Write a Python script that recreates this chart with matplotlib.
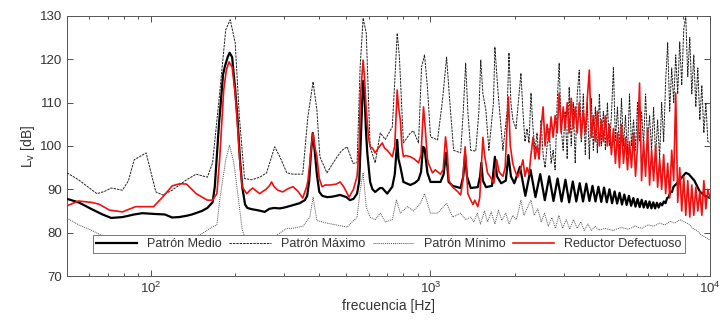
import matplotlib
matplotlib.use("Agg")
import matplotlib.pyplot as plt
from matplotlib.ticker import LogLocator, NullFormatter, FixedLocator

plt.rcParams['font.family'] = ['Liberation Sans', 'DejaVu Sans']

# ---------------- data ----------------
medio_f = [50, 55, 61, 67, 72, 79, 87, 93, 104, 112, 119, 126, 134, 140, 152, 159, 166, 169, 175,
           181, 184, 188, 191, 195, 200, 204, 208, 212, 217, 221, 230, 240, 255, 265, 275, 289, 300,
           320, 340, 355, 362, 368, 373, 379, 385, 392, 400, 410, 426, 445, 475, 500, 515, 530, 546,
           556, 562, 568, 574, 580, 587, 594, 608, 620, 634, 660, 672, 700, 730, 745, 752, 760, 768,
           780, 800, 847, 880, 906, 925, 940, 952, 975, 1000, 1086, 1115, 1135, 1150, 1161, 1200,
           1282, 1310, 1330, 1350, 1393, 1476, 1505, 1520, 1540, 1580, 1660, 1700, 1730, 1790, 1860,
           1900, 1940, 1995, 2090, 2185, 2280, 2375, 2470, 2565, 2660, 2755, 2850, 2945, 3040, 3135,
           3230, 3325, 3420, 3515, 3610, 3705, 3800, 3895, 3990, 4085, 4180, 4275, 4370, 4465, 4560,
           4655, 4750, 4845, 4940, 5035, 5130, 5225, 5320, 5415, 5510, 5605, 5700, 5795, 5890, 5985,
           6080, 6175, 6270, 6365, 6460, 6555, 6650, 6745, 6840, 6935, 7030, 7125, 7220, 7315, 7410,
           7600, 7800, 8000, 8200, 8400, 8800, 9200, 9600, 10000]
medio_db = [87.8, 87.0, 85.5, 84.2, 83.4, 83.6, 84.2, 84.5, 84.3, 84.2, 83.5, 83.6, 83.9, 84.2, 85.0,
            85.7, 87.0, 90.5, 105.0, 116.5, 118.5, 120.5, 121.5, 120.5, 113.0, 106.0, 97.0, 90.5,
            86.5, 85.7, 85.4, 85.2, 84.8, 85.5, 85.7, 85.6, 85.8, 86.3, 86.8, 87.5, 88.5, 92.0, 98.0,
            103.0, 99.0, 93.5, 89.4, 88.5, 88.2, 88.3, 88.7, 88.2, 87.5, 87.8, 89.0, 92.0, 100.0,
            108.0, 115.0, 113.0, 104.0, 98.4, 91.7, 90.0, 89.4, 90.3, 90.3, 89.0, 90.6, 93.5, 97.0,
            101.4, 97.0, 95.2, 91.7, 91.0, 91.5, 92.2, 94.0, 99.8, 99.5, 93.8, 91.7, 91.7, 93.5,
            98.4, 95.0, 91.7, 90.8, 90.3, 93.0, 98.0, 93.0, 90.3, 90.5, 93.0, 96.1, 92.0, 90.5, 90.8,
            97.5, 93.0, 91.4, 92.0, 97.9, 93.0, 91.4, 95.2, 88.5, 94.5, 88.2, 93.5, 87.5, 93.0, 87.3,
            92.5, 87.2, 92.2, 87.0, 91.8, 87.2, 91.4, 87.2, 91.3, 87.3, 90.8, 87.2, 90.6, 87.1, 90.4,
            87.0, 90.0, 86.8, 89.5, 86.7, 89.2, 86.5, 88.8, 86.4, 88.5, 86.2, 88.0, 86.0, 87.8, 85.9,
            87.6, 85.8, 87.3, 85.7, 87.2, 85.6, 87.0, 85.6, 86.9, 85.8, 86.8, 86.3, 87.2, 86.8, 88.0,
            88.2, 89.4, 89.4, 90.6, 91.3, 92.2, 93.0, 93.8, 93.5, 92.0, 89.5, 88.5, 88.0]

maximo_f = [50, 55, 61, 64, 68, 72, 79, 83, 87, 96, 104, 110, 119, 134, 145, 159, 166, 176, 185,
            192, 200, 207, 216, 229, 245, 259, 277, 289, 306, 321, 349, 364, 380, 392, 402, 426,
            463, 482, 503, 528, 546, 560, 574, 589, 608, 634, 661, 689, 730, 745, 760, 774, 800,
            847, 869, 906, 929, 952, 975, 1000, 1060, 1104, 1142, 1171, 1210, 1282, 1310, 1336,
            1360, 1393, 1452, 1490, 1513, 1540, 1578, 1618, 1680, 1700, 1720, 1742, 1816, 1880,
            1909, 1940, 1972, 2023,
            2107, 2142, 2178, 2215, 2252, 2289, 2328, 2367, 2406, 2446, 2487, 2529, 2571, 2614,
            2658, 2702, 2747, 2793, 2840, 2887, 2935, 2984, 3034, 3085, 3136, 3189, 3242, 3296,
            3351, 3407, 3464, 3522, 3581, 3641, 3702, 3763, 3826, 3890, 3955, 4021, 4088, 4156,
            4226, 4296, 4368, 4441, 4515, 4590, 4667, 4745, 4824, 4905, 4986, 5070, 5154, 5240,
            5328, 5417, 5507, 5599, 5693, 5788, 5884, 5983, 6082, 6184, 6287, 6392, 6499, 6607,
            6718, 6830, 6944, 7060, 7178, 7298, 7420, 7543, 7669, 7797, 7927, 8060, 8194, 8331,
            8470, 8612, 8755, 8902, 9050, 9201, 9355, 9511, 9670, 9831, 10000]
maximo_db = [93.8, 92.2, 90.0, 89.0, 89.5, 90.3, 89.8, 92.0, 96.8, 98.4, 89.4, 88.7, 89.8, 92.2,
             93.5, 92.8, 96.1, 112.2, 126.8, 129.1, 123.8, 106.7, 92.5, 92.2, 92.8, 93.8, 99.8,
             97.5, 93.8, 93.5, 93.5, 106.7, 114.8, 108.3, 97.5, 93.8, 97.5, 99.0, 99.8, 96.0, 96.1,
             118.2, 129.5, 126.0, 99.8, 96.1, 103.0, 101.5, 104.4, 115.0, 126.0, 120.5, 100.7,
             103.0, 103.5, 100.7, 118.2, 121.0, 113.6, 102.1, 101.4, 110.6, 120.5, 110.6, 99.0,
             98.4, 108.0, 119.1, 108.0, 99.0, 98.8, 108.0, 119.8, 112.0, 108.3, 99.0, 110.0,
             122.8, 118.0, 113.0, 99.0, 108.0, 121.5, 110.0, 106.0, 104.0,
             116.8, 108.0, 101.0, 104.0, 100.7, 112.2, 104.0, 99.0, 103.0, 97.0, 106.0, 98.0,
             95.0, 100.0, 104.0, 96.0, 99.0, 94.5, 110.0, 119.1, 104.0, 99.0, 108.0, 97.0, 113.6,
             100.0, 110.0, 96.0, 112.0, 117.5, 101.0, 112.0, 98.0, 110.0, 97.0, 111.0, 99.0,
             109.0, 98.4, 112.0, 100.0, 108.0, 99.0, 110.0, 100.0, 107.0, 118.2, 101.0, 109.0,
             99.0, 111.0, 100.0, 107.0, 98.0, 112.0, 100.0, 106.0, 99.0, 110.0, 101.0, 108.0,
             100.0, 112.0, 101.0, 107.0, 99.0, 109.0, 97.5, 106.0, 97.0, 110.0, 101.0, 115.0,
             123.8, 108.0, 118.0, 110.0, 121.0, 112.0, 124.0, 114.0, 127.0, 130.0, 116.0, 125.0,
             112.0, 121.0, 109.0, 118.0, 106.0, 114.0, 103.0, 110.0, 101.0, 100.7]

minimo_f = [50, 55, 61, 66, 75, 90, 120, 150, 165, 172, 176, 185, 191, 198, 207, 212, 220, 260,
            290, 306, 321, 350, 370, 380, 392, 426, 503, 546, 560, 574, 589, 608, 634, 661, 689,
            730, 755, 780, 827, 869, 921, 952, 1000, 1060, 1142, 1200, 1282, 1336, 1393, 1430,
            1470, 1510, 1560, 1600, 1650, 1700, 1750, 1800, 1860, 1910, 1970, 2030, 2107, 2160,
            2230, 2289, 2350, 2420, 2490, 2560, 2640, 2720, 2800, 2880, 2970, 3060, 3150, 3250,
            3350, 3450, 3550, 3660, 3770, 3880, 4000, 4200, 4500, 4800, 5100, 5400, 5700, 6000,
            6300, 6600, 6900, 7200, 7500, 7800, 8100, 8400, 8700, 9000, 9300, 9600, 10000]
minimo_db = [83.4, 81.8, 80.6, 79.5, 78.5, 78.5, 78.5, 79.5, 81.3, 81.8, 87.5, 96.8, 100.2, 95.9,
             86.0, 80.6, 78.0, 78.0, 80.0, 81.0, 81.0, 81.5, 83.6, 88.2, 82.8, 82.2, 81.3, 83.6,
             89.8, 93.8, 85.9, 83.6, 83.0, 84.5, 82.5, 83.0, 87.5, 84.5, 86.0, 85.0, 86.8, 89.0,
             84.5, 84.5, 86.8, 83.6, 84.5, 83.0, 83.6, 82.5, 84.5, 82.0, 85.0, 82.5, 84.8, 82.0,
             85.2, 82.8, 84.5, 82.0, 84.0, 83.0, 87.5, 84.0, 86.0, 87.5, 84.0, 85.5, 82.5, 84.5,
             81.5, 83.5, 81.0, 84.0, 81.0, 83.0, 80.8, 83.0, 81.0, 82.5, 80.5, 82.0, 80.5, 81.5,
             80.6, 81.0, 80.5, 81.2, 80.8, 81.5, 81.0, 81.8, 81.5, 82.2, 81.8, 82.6, 82.2, 83.0,
             82.5, 82.0, 81.0, 80.5, 79.5, 79.0, 78.3]

reductor_f = [50, 55, 61, 65, 71, 79, 88, 102, 110, 119, 127, 134, 145, 159, 166, 172, 176, 182,
              186, 190, 195, 200, 204, 208, 212, 220, 226, 231, 238, 245, 252, 258, 265, 270, 275,
              284, 296, 310, 322, 335, 349, 360, 364, 370, 376, 380, 385, 392, 400, 409, 420, 437,
              460, 475, 490, 511, 530, 546, 556, 560, 568, 574, 580, 589, 600, 608, 620, 634, 650,
              672, 685, 700, 715, 730, 745, 752, 760, 768, 780, 790, 800, 815, 847, 875, 906, 925,
              944, 955, 975, 983, 1016, 1040, 1086, 1110, 1132, 1150, 1161, 1200, 1250, 1282, 1305,
              1330, 1345, 1360, 1393, 1420, 1440, 1476, 1500, 1540, 1560, 1600, 1650, 1686, 1725,
              1760, 1816, 1850, 1900, 1930, 1970, 2000, 2050,
              2107, 2142, 2178, 2215, 2252, 2289, 2328, 2367, 2406, 2446, 2487, 2529, 2571, 2614,
              2658, 2702, 2747, 2793, 2840, 2887, 2935, 2984, 3034, 3085, 3136, 3189, 3242, 3296,
              3351, 3407, 3464, 3522, 3581, 3641, 3702, 3763, 3826, 3890, 3955, 4021, 4088, 4156,
              4226, 4296, 4368, 4441, 4515, 4590, 4667, 4745, 4824, 4905, 4986, 5070, 5154, 5240,
              5328, 5417, 5507, 5599, 5693, 5788, 5884, 5983, 6082, 6184, 6287, 6392, 6499, 6607,
              6718, 6830, 6944, 7060, 7178, 7298, 7420, 7543, 7669, 7797, 7927, 8060, 8194, 8331,
              8470, 8612, 8755, 8902, 9050, 9201, 9355, 9511, 9670, 9831, 10000]
reductor_db = [86.2, 87.3, 87.0, 86.6, 85.2, 84.8, 86.0, 86.0, 88.2, 90.8, 91.3, 91.2, 89.0, 87.5,
               87.5, 89.0, 97.0, 113.0, 117.5, 119.4, 118.2, 112.0, 104.4, 96.0, 90.5, 89.0, 89.8,
               90.3, 89.6, 89.0, 89.6, 90.0, 90.8, 91.7, 90.7, 89.8, 89.4, 90.2, 90.6, 89.6, 88.0,
               90.5, 91.9, 96.0, 101.0, 103.0, 100.0, 97.5, 92.5, 90.6, 91.0, 91.0, 91.2, 91.7,
               90.5, 88.2, 90.0, 93.0, 100.0, 110.6, 116.0, 119.8, 116.0, 108.3, 102.0, 99.8, 99.5,
               98.4, 99.5, 100.7, 99.5, 99.0, 98.3, 97.5, 100.0, 106.0, 112.9, 109.0, 106.0, 100.0,
               97.5, 97.8, 97.5, 97.0, 96.1, 98.0, 109.0, 105.0, 97.0, 96.0, 93.8, 94.5, 93.5, 94.5,
               102.1, 98.0, 92.2, 90.5, 89.5, 88.7, 92.0, 99.8, 95.0, 89.0, 87.5, 86.5, 87.5, 86.0,
               88.0, 102.0, 98.0, 93.8, 92.5, 91.4, 96.8, 94.0, 93.0, 95.0, 111.3, 100.0, 96.0,
               94.5, 92.8,
               95.0, 96.8, 93.0, 95.0, 93.5, 98.0, 102.0, 97.0, 100.0, 97.0, 104.0, 109.0, 100.0,
               105.0, 101.0, 106.7, 102.0, 107.0, 103.0, 112.2, 103.0, 109.0, 104.0, 110.0, 103.0,
               111.0, 104.0, 109.0, 103.0, 110.0, 102.0, 108.0, 103.0, 111.0, 117.5, 102.0, 107.0,
               101.0, 108.0, 100.0, 106.0, 101.0, 107.0, 100.0, 105.0, 98.0, 104.0, 96.0, 103.0,
               95.0, 105.0, 96.0, 102.0, 94.5, 101.0, 95.0, 103.0, 93.0, 100.0, 114.5, 92.0, 101.0,
               93.0, 104.0, 91.0, 99.0, 92.0, 100.0, 90.5, 97.0, 90.0, 98.0, 89.0, 96.0, 88.0, 99.0,
               92.0, 112.2, 87.0, 95.0, 85.0, 93.0, 84.0, 92.0, 83.6, 91.0, 84.0, 90.5, 85.0, 89.5,
               84.0, 92.0, 85.5, 90.0, 88.0]

labels = ['Patrón Medio', 'Patrón Máximo', 'Patrón Mínimo', 'Reductor Defectuoso']
yticks = [70, 80, 90, 100, 110, 120, 130]

# ---------------- figure ----------------
fig = plt.figure(figsize=(7.2, 3.24), dpi=100)
ax = fig.add_axes([0.093, 0.148, 0.893, 0.803])

h_min, = ax.plot(minimo_f, minimo_db, color='#505050', lw=0.7, ls=(0, (1, 1)), label=labels[2], zorder=2)
h_max, = ax.plot(maximo_f, maximo_db, color='#202020', lw=0.7, ls=(0, (2.5, 1)), label=labels[1], zorder=3)
h_med, = ax.plot(medio_f, medio_db, color='black', lw=1.6, label=labels[0], zorder=4)
h_red, = ax.plot(reductor_f, reductor_db, color='#f01010', lw=1.2, label=labels[3], zorder=5)

ax.set_xscale('log')
ax.set_xlim(50, 10000)
ax.set_ylim(70, 130)
ax.yaxis.set_major_locator(FixedLocator(yticks))
ax.xaxis.set_minor_locator(LogLocator(base=10, subs=range(2, 10)))
ax.xaxis.set_minor_formatter(NullFormatter())

ax.tick_params(which='both', direction='in', top=True, right=True, colors='#333333',
               labelsize=9.5, labelcolor='#333333')
ax.tick_params(which='major', length=4, width=0.6)
ax.tick_params(which='minor', length=2.5, width=0.6)
for s in ax.spines.values():
    s.set_color('#555555')
    s.set_linewidth(0.7)

ax.set_xlabel('frecuencia [Hz]', fontsize=10, color='#333333', labelpad=2)
ax.set_ylabel('L$_\\mathrm{v}$ [dB]', fontsize=10, color='#333333', labelpad=2)

leg = ax.legend(handles=[h_med, h_max, h_min, h_red], loc='lower left',
                bbox_to_anchor=(0.04, 0.088, 0.921, 0.089), mode='expand', ncol=4,
                borderaxespad=0, fontsize=9, handlelength=3.3, handletextpad=0.8,
                fancybox=False, framealpha=1, edgecolor='#777777', borderpad=0.25,
                columnspacing=1.0)
leg.get_frame().set_linewidth(0.7)
leg.set_zorder(10)
for t in leg.get_texts():
    t.set_color('#333333')

fig.savefig('out.png', dpi=100)
